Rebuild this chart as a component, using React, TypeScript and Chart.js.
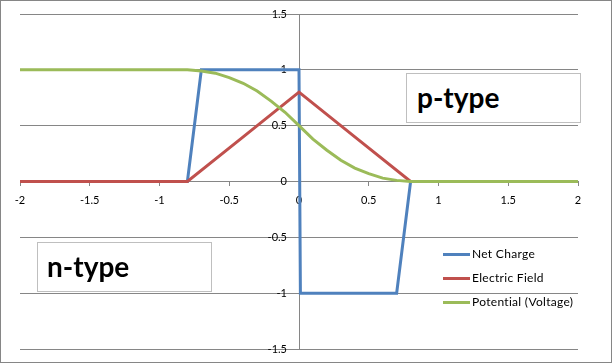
import React, { useEffect, useRef } from "react";
import { Chart, registerables } from "chart.js";

Chart.register(...registerables);

// ---- data ----
const seriesNames = ["Net Charge", "Electric Field", "Potential (Voltage)"];
const seriesColors = ["#4F81BD", "#C0504D", "#9BBB59"];

const netChargeX = [-2, -1, -0.8, -0.7, 0, 0.01, 0.7, 0.8, 1, 2];
const netChargeY = [0, 0, 0, 1, 1, -1, -1, 0, 0, 0];

const fieldX = [-2, -1, -0.8, -0.4, 0, 0.4, 0.8, 1, 2];
const fieldY = [0, 0, 0, 0.4, 0.8, 0.4, 0, 0, 0];

const potentialX = [-2, -1.5, -1, -0.8, -0.7, -0.6, -0.5, -0.4, -0.3, -0.2, -0.1, 0, 0.1, 0.2, 0.3, 0.4, 0.5, 0.6, 0.7, 0.8, 1, 1.5, 2];
const potentialY = [1, 1, 1, 1, 0.99, 0.97, 0.93, 0.88, 0.81, 0.72, 0.62, 0.5, 0.38, 0.28, 0.19, 0.12, 0.07, 0.03, 0.01, 0, 0, 0, 0];

const xMin = -2;
const xMax = 2;
const xStep = 0.5;
const yMin = -1.5;
const yMax = 1.5;
const yStep = 0.5;

const boxLabels = ["p-type", "n-type"];

function pts(xs: number[], ys: number[]) {
  return xs.map((x, i) => ({ x, y: ys[i] }));
}

const FONT = "Lato";
const GRID = "#868686";
// y tick labels sit ~12px left of the vertical axis (x = 0)
const Y_LABEL_GAP_PX = 12;

export default function App() {
  const ref = useRef<HTMLCanvasElement | null>(null);

  useEffect(() => {
    if (!ref.current) return;
    const padLeft = 20;
    const padRight = 35;
    const plotWidth = 613 - padLeft - padRight;
    const labelOffset = -(Y_LABEL_GAP_PX * (xMax - xMin)) / plotWidth;
    const chart = new Chart(ref.current, {
      type: "line",
      data: {
        datasets: [
          { label: seriesNames[0], data: pts(netChargeX, netChargeY), borderColor: seriesColors[0], order: 3 },
          { label: seriesNames[1], data: pts(fieldX, fieldY), borderColor: seriesColors[1], order: 2 },
          { label: seriesNames[2], data: pts(potentialX, potentialY), borderColor: seriesColors[2], order: 1 },
        ].map((d) => ({
          ...d,
          borderWidth: 3,
          pointRadius: 0,
          pointHoverRadius: 0,
          tension: 0,
          fill: false,
        })),
      },
      options: {
        animation: false,
        responsive: false,
        devicePixelRatio: 1,
        layout: { padding: { left: padLeft, right: padRight, top: 14, bottom: 15 } },
        plugins: { legend: { display: false }, tooltip: { enabled: false } },
        events: [],
        scales: {
          x: {
            type: "linear",
            min: xMin,
            max: xMax,
            position: { y: 0 } as any,
            grid: {
              drawOnChartArea: true,
              drawTicks: true,
              tickLength: 4,
              color: (c: any) => (c.tick && c.tick.value === 0 ? GRID : "rgba(0,0,0,0)"),
              tickColor: GRID,
              lineWidth: 1,
            },
            border: { display: true, color: GRID, width: 1 },
            ticks: {
              stepSize: xStep,
              padding: 8,
              color: "#000",
              font: { family: FONT, size: 11 },
              maxRotation: 0,
              autoSkip: false,
              callback: (v: any) => String(Number(v)),
            },
          },
          y: {
            type: "linear",
            min: yMin,
            max: yMax,
            position: { x: labelOffset } as any,
            grid: { drawOnChartArea: true, drawTicks: false, color: GRID, lineWidth: 1 },
            border: { display: false },
            ticks: {
              stepSize: yStep,
              padding: 0,
              color: "#000",
              font: { family: FONT, size: 11 },
              autoSkip: false,
              callback: (v: any) => String(Number(v)),
            },
          },
        },
      },
    });
    return () => chart.destroy();
  }, []);

  const legendTop = [248.1, 272.4, 296.8];

  return (
    <div style={{ position: "absolute", left: 0, top: 0, width: 613, height: 364, background: "#fff", overflow: "hidden" }}>
      <canvas ref={ref} width={613} height={364} style={{ position: "absolute", left: 0, top: 0, width: 613, height: 364 }} />
      <div style={{ position: "absolute", left: 0, top: 0, width: 612, height: 363, boxSizing: "border-box", border: `1px solid ${GRID}`, pointerEvents: "none" }} />
      {/* p-type box */}
      <div style={{ position: "absolute", left: 406, top: 73, width: 175, height: 50, boxSizing: "border-box", border: "1px solid #BFBFBF", background: "#fff" }} />
      <div style={{ position: "absolute", left: 417, top: 82.5, fontFamily: FONT, fontWeight: 700, fontSize: 28, lineHeight: "28px", color: "#000", whiteSpace: "nowrap" }}>
        {boxLabels[0]}
      </div>
      {/* n-type box */}
      <div style={{ position: "absolute", left: 37, top: 242, width: 175, height: 50, boxSizing: "border-box", border: "1px solid #BFBFBF", background: "#fff" }} />
      <div style={{ position: "absolute", left: 47, top: 251.5, fontFamily: FONT, fontWeight: 700, fontSize: 28, lineHeight: "28px", color: "#000", whiteSpace: "nowrap" }}>
        {boxLabels[1]}
      </div>
      {/* legend */}
      {seriesNames.map((name, i) => (
        <div key={name}>
          <div style={{ position: "absolute", left: 443, top: legendTop[i] + 4.4, width: 27, height: 3, background: seriesColors[i] }} />
          <div style={{ position: "absolute", left: 472, top: legendTop[i] - 0.5, fontFamily: FONT, fontSize: 12, lineHeight: "12px", letterSpacing: "0.3px", color: "#000", whiteSpace: "nowrap" }}>
            {name}
          </div>
        </div>
      ))}
    </div>
  );
}
